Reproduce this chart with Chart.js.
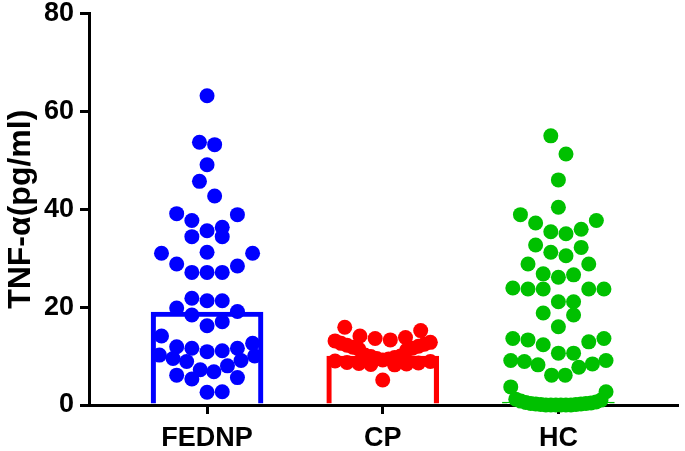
<!DOCTYPE html>
<html>
<head>
<meta charset="utf-8">
<script src="https://cdn.jsdelivr.net/npm/chart.js@4.4.1/dist/chart.umd.min.js"></script>
<style>
  html, body { margin: 0; padding: 0; background: #fff; }
  #wrap { width: 685px; height: 451px; }
</style>
</head>
<body>
<div id="wrap"><canvas id="c" width="685" height="451"></canvas></div>
<script>
const categories = ['FEDNP', 'CP', 'HC'];
const colors = ['#0000FF', '#FF0000', '#00C000'];
const yTicks = [0, 20, 40, 60, 80];
const barValues = [19.0, 10.0, 0.6];

const fednp = [63.2, 53.2, 53.7, 49.1, 45.7, 42.7, 38.9, 39.1, 36.3, 37.7, 35.6, 34.4, 34.4,
  31.0, 31.0, 31.2, 28.8, 28.4, 27.1, 27.1, 27.1, 21.8, 21.3, 21.3, 19.1, 18.4, 19.8, 17.0, 16.2,
  12.6, 14.1, 11.6, 11.1, 10.2, 9.5, 8.9, 8.0, 9.1, 10.0, 10.9, 11.6, 11.9,
  7.2, 6.1, 5.3, 5.6, 6.8, 2.7, 2.6];

const cp = [15.9, 15.2, 14.1, 13.8, 13.6, 13.3, 13.1, 12.8, 12.6, 12.4, 12.2, 12.0, 11.8, 11.6,
  11.4, 11.2, 10.2, 10.0, 9.9, 9.7, 9.5, 9.4, 9.2, 9.0, 8.9, 8.7, 8.6, 8.5, 8.4, 8.3, 8.2, 5.1];

const hc = [55.0, 51.3, 46.0, 40.4, 37.7, 38.9, 35.9, 35.0, 35.4, 37.2, 32.7, 31.2, 30.5, 32.2,
  28.8, 28.8, 26.6, 26.8, 26.1, 23.9, 23.7, 23.7, 23.7, 23.7, 21.1, 21.1, 18.8, 18.4,
  13.6, 13.3, 12.3, 12.9, 13.6, 16.0, 10.6, 10.6, 9.1, 8.9, 8.2, 6.1, 6.1, 7.7, 8.4, 9.1,
  3.7, 2.7, 0, 0, 0, 0, 0, 0, 0.1, 0.1, 0.2, 0.2, 0.3, 0.3, 0.4, 0.5, 0.6, 0.8, 1.0, 1.2];

const series = [fednp, cp, hc];

// Layout helpers (GraphPad-like row scatter)
const X_MIN = -0.672, X_MAX = 2.678;
const PX_PER_UNIT = (682 - 89) / (X_MAX - X_MIN);
const BIN = 4.0;        // value units per row
const DOT_GAP = 15.3;   // px between neighbouring dots
const MAX_SPAN = 96;    // px max row span

function swarm(values, ci) {
  const sorted = values.slice().sort((a, b) => a - b);
  const rows = [];
  let cur = null;
  sorted.forEach(v => {
    if (!cur || v - cur.start > BIN) { cur = { start: v, items: [] }; rows.push(cur); }
    cur.items.push(v);
  });
  const pts = [];
  rows.forEach(r => {
    const n = r.items.length;
    const s = n > 1 ? Math.min(DOT_GAP, MAX_SPAN / (n - 1)) : 0;
    const slots = [];
    for (let k = 0; k < n; k++) slots.push((k - (n - 1) / 2) * s);
    slots.sort((a, b) => Math.abs(a) - Math.abs(b) || b - a);
    r.items.forEach((v, k) => {
      pts.push({ x: ci + slots[k] / PX_PER_UNIT, y: v });
    });
  });
  return pts;
}

const FONT = "'Liberation Sans', Arial, Helvetica, sans-serif";

const datasets = [{
  type: 'bar',
  data: categories.map((c, i) => ({ x: i, y: barValues[i] })),
  backgroundColor: 'rgba(0,0,0,0)',
  borderColor: colors,
  borderWidth: 4.5,
  borderSkipped: 'bottom',
  barThickness: 112,
  order: 2
}];
series.forEach((vals, i) => {
  datasets.push({
    type: 'scatter',
    data: swarm(vals, i),
    backgroundColor: colors[i],
    borderWidth: 0,
    pointRadius: 7.5,
    pointHoverRadius: 7.5,
    showLine: false,
    clip: false,
    order: 1
  });
});

new Chart(document.getElementById('c'), {
  type: 'bar',
  data: { datasets },
  options: {
    responsive: false,
    animation: false,
    events: [],
    layout: { padding: { top: 13.5, right: 3, left: 0, bottom: 0 } },
    plugins: { legend: { display: false }, tooltip: { enabled: false } },
    scales: {
      x: {
        type: 'linear',
        offset: false,
        min: X_MIN,
        max: X_MAX,
        afterBuildTicks: s => { s.ticks = categories.map((c, i) => ({ value: i })); },
        afterFit: s => { s.height = 46; s.paddingLeft = 0; s.paddingRight = 0; },
        ticks: {
          callback: v => categories[v],
          autoSkip: false, maxRotation: 0,
          color: '#000',
          padding: 8,
          font: { family: FONT, size: 27, weight: 'bold' }
        },
        grid: { offset: false, drawOnChartArea: false, drawTicks: true, tickLength: 9, lineWidth: 3, color: '#000' },
        border: { display: true, width: 3, color: '#000' }
      },
      y: {
        type: 'linear',
        min: 0,
        max: 80,
        afterBuildTicks: s => { s.ticks = yTicks.map(v => ({ value: v })); },
        afterFit: s => { s.width = 89; s.paddingTop = 0; s.paddingBottom = 0; },
        ticks: {
          color: '#000',
          padding: 6,
          font: { family: FONT, size: 27, weight: 'bold' }
        },
        grid: { drawOnChartArea: false, drawTicks: true, tickLength: 9, lineWidth: 3, color: '#000' },
        border: { display: true, width: 3, color: '#000' },
        title: {
          display: true,
          text: 'TNF-α(pg/ml)',
          color: '#000',
          padding: { top: 2, bottom: 0 },
          font: { family: FONT, size: 32, weight: 'bold' }
        }
      }
    }
  }
});
</script>
</body>
</html>
